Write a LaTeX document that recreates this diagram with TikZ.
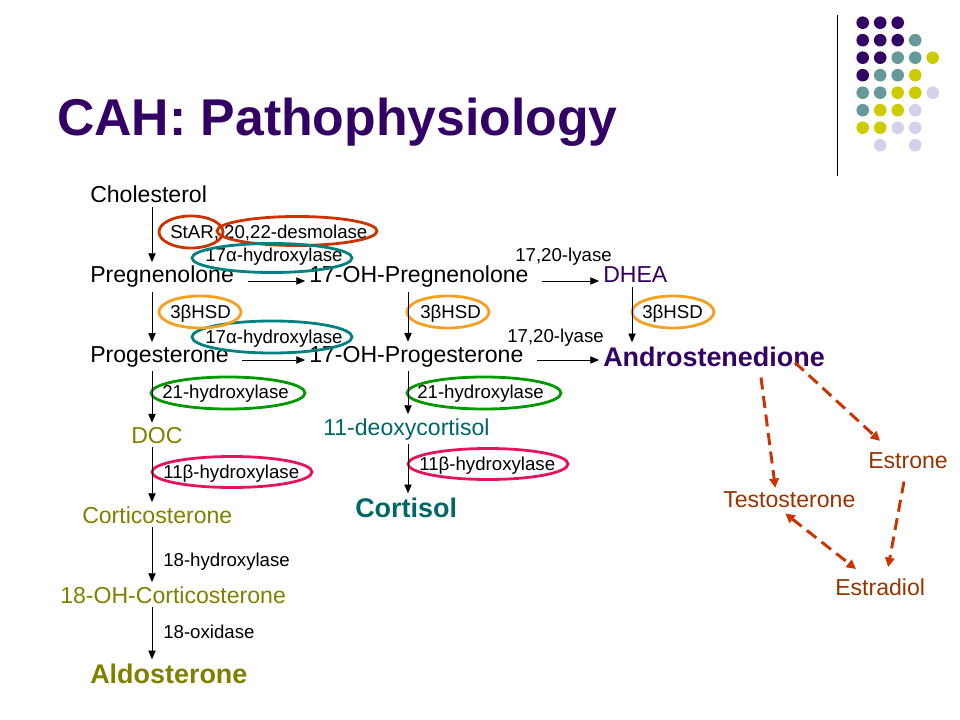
\documentclass[tikz,border=0pt]{standalone}
\usepackage{fontspec}
\setmainfont{Liberation Sans}
\usetikzlibrary{arrows.meta,calc}

\definecolor{plum}{RGB}{51,0,102}
\definecolor{sage}{RGB}{102,153,153}
\definecolor{lime}{RGB}{204,204,0}
\definecolor{lilac}{RGB}{210,210,235}
\definecolor{olive}{RGB}{128,128,0}
\definecolor{deepteal}{RGB}{0,102,102}
\definecolor{rust}{RGB}{153,51,0}
\definecolor{flame}{RGB}{204,51,0}
\definecolor{ringteal}{RGB}{0,128,128}
\definecolor{ringorange}{RGB}{245,160,30}
\definecolor{ringgreen}{RGB}{0,153,0}
\definecolor{ringpink}{RGB}{230,20,90}

\begin{document}
\begin{tikzpicture}[x=0.75pt,y=-0.75pt,
  txt/.style={anchor=base west,inner sep=0pt,font=\fontsize{17.3}{20}\selectfont},
  enz/.style={anchor=base west,inner sep=0pt,font=\fontsize{14}{16}\selectfont},
  big/.style={anchor=base west,inner sep=0pt,font=\fontsize{20.2}{24}\selectfont\bfseries},
  arr/.style={-{Triangle[length=6.5pt,width=5.5pt]},shorten <=3pt,shorten >=3pt},
  harr/.style={-{Triangle[length=6.5pt,width=5.5pt]},shorten <=10pt,shorten >=3pt},
  ring/.style={line width=2.1pt},
  est/.style={draw=flame,line width=2.2pt,dash pattern=on 9pt off 5pt,
    -{Triangle[length=7pt,width=7pt]}}]
\useasboundingbox (0,0) rectangle (960,720);

\foreach \r/\c/\k in {0/0/plum,0/1/plum,0/2/plum,
  1/0/plum,1/1/plum,1/2/plum,1/3/sage,
  2/0/plum,2/1/plum,2/2/sage,2/3/sage,2/4/lime,
  3/0/plum,3/1/sage,3/2/sage,3/3/lime,
  4/0/sage,4/1/sage,4/2/lime,4/3/lime,4/4/lilac,
  5/0/sage,5/1/lime,5/2/lime,5/3/lilac,
  6/0/lime,6/1/lime,6/2/lilac,6/3/lilac,
  7/1/lilac,7/3/lilac}
  \fill[\k] (862.7+17.5*\c,22.7+17.5*\r) circle[radius=6.3];
\draw[line width=0.75pt] (837,15) -- (837,176);

\node[anchor=base west,inner sep=0pt,plum,font=\fontsize{38.8}{44}\selectfont\bfseries] (title) at (57,136) {CAH: Pathophysiology};

\node[txt] (chol) at (90,203) {Cholesterol};
\node[txt] (preg) at (90,283) {Pregnenolone};
\node[txt] (prog) at (90,362) {Progesterone};
\node[txt,olive] (doc) at (131,443) {DOC};
\node[txt,olive] (cort) at (82,523) {Corticosterone};
\node[txt,olive] (ohcort) at (60,603) {18-OH-Corticosterone};
\node[big,olive] (aldo) at (90,683) {Aldosterone};

\node[txt] (ohpreg) at (309,283) {17-OH-Pregnenolone};
\node[txt] (ohprog) at (309,362) {17-OH-Progesterone};
\node[txt,deepteal] (deoxy) at (323,435) {11-deoxycortisol};
\node[big,deepteal] (cortisol) at (355,517) {Cortisol};

\node[txt,plum] (dhea) at (603,283) {DHEA};
\node[big,plum] (andro) at (603,366) {Androstenedione};

\node[txt,rust] (estrone) at (868,468) {Estrone};
\node[txt,rust] (testo) at (723,507) {Testosterone};
\node[txt,rust] (estradiol) at (835,595) {Estradiol};

\node[enz] (e1) at (170,239) {StAR, 20,22-desmolase};
\node[enz] (e2) at (205,262) {17α-hydroxylase};
\node[enz] (e3) at (515,262) {17,20-lyase};
\node[enz] (e4) at (170,318) {3βHSD};
\node[enz] (e5) at (420,319) {3βHSD};
\node[enz] (e6) at (642,318) {3βHSD};
\node[enz] (e7) at (205,343) {17α-hydroxylase};
\node[enz] (e8) at (507,342) {17,20-lyase};
\node[enz] (e9) at (162,398) {21-hydroxylase};
\node[enz] (e10) at (417,398) {21-hydroxylase};
\node[enz] (e11) at (163,478) {11β-hydroxylase};
\node[enz] (e12) at (419,470) {11β-hydroxylase};
\node[enz] (e13) at (163,566) {18-hydroxylase};
\node[enz] (e14) at (163,638) {18-oxidase};

\draw[ring,flame] (191,232) ellipse[x radius=32,y radius=16];
\draw[ring,flame] (297,231) ellipse[x radius=80,y radius=14.5];
\draw[ring,ringteal] (272,258) ellipse[x radius=80,y radius=14.5];
\draw[ring,ringteal] (272,337) ellipse[x radius=80,y radius=16];
\draw[ring,ringorange] (200,312) ellipse[x radius=41,y radius=16];
\draw[ring,ringorange] (448,312) ellipse[x radius=41,y radius=16];
\draw[ring,ringorange] (673,312) ellipse[x radius=41,y radius=16];
\draw[ring,ringgreen] (228,393) ellipse[x radius=77,y radius=16];
\draw[ring,ringgreen] (484,393) ellipse[x radius=77,y radius=16];
\draw[ring,ringpink] (232,472) ellipse[x radius=80,y radius=15.5];
\draw[ring,ringpink] (488,464) ellipse[x radius=80,y radius=15.5];

\coordinate (xa) at (152,0);
\coordinate (xb) at (408,0);
\coordinate (xc) at (632,0);
\coordinate (ya) at (0,281);
\coordinate (yb) at (0,360);

\draw[arr] (chol.south -| xa) -- (preg.north -| xa);
\draw[arr] (preg.south -| xa) -- (prog.north -| xa);
\draw[arr] (prog.south -| xa) -- (doc.north -| xa);
\draw[arr] (doc.south -| xa) -- (cort.north -| xa);
\draw[arr] (cort.south -| xa) -- (ohcort.north -| xa);
\draw[arr] (ohcort.south -| xa) -- (aldo.north -| xa);
\draw[arr] (ohpreg.south -| xb) -- (ohprog.north -| xb);
\draw[arr] (ohprog.south -| xb) -- (deoxy.north -| xb);
\draw[arr] (deoxy.south -| xb) -- (cortisol.north -| xb);
\draw[arr] (dhea.south -| xc) -- (andro.north -| xc);
\draw[harr] (preg.east |- ya) -- (ohpreg.west |- ya);
\draw[harr] (ohpreg.east |- ya) -- (dhea.west |- ya);
\draw[harr] (prog.east |- yb) -- (ohprog.west |- yb);
\draw[harr] (ohprog.east |- yb) -- (andro.west |- yb);

\draw[est] ($(andro.south)+(47,11)$) -- ($(testo.north)+(-14,-3)$);
\draw[est] ($(andro.south)+(81,-4)$) -- ($(estrone.north west)+(12,-11)$);
\draw[est] ($(estrone.south)+(-4,13)$) -- ($(estradiol.north)+(8,-11)$);
\draw[est,{Triangle[length=7pt,width=7pt]}-{Triangle[length=7pt,width=7pt]}] ($(testo.south)+(-4,6)$) -- ($(estradiol.north west)+(21,-9)$);
\end{tikzpicture}
\end{document}
